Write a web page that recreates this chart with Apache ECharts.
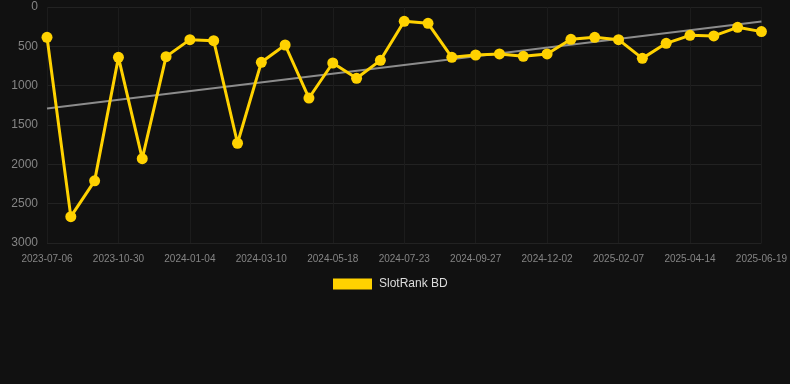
<!DOCTYPE html>
<html>
<head>
<meta charset="utf-8">
<style>
  html, body { margin: 0; padding: 0; background: #111111; }
  #chart { width: 790px; height: 384px; }
</style>
<script src="https://cdn.jsdelivr.net/npm/echarts@6/dist/echarts.min.js"></script>
</head>
<body>
<div id="chart"></div>
<script>
var dates = [
  '2023-07-06', '2023-08-14', '2023-09-22', '2023-10-30', '2023-11-21', '2023-12-13',
  '2024-01-04', '2024-01-26', '2024-02-17', '2024-03-10', '2024-04-02', '2024-04-25',
  '2024-05-18', '2024-06-09', '2024-07-01', '2024-07-23', '2024-08-14', '2024-09-05',
  '2024-09-27', '2024-10-19', '2024-11-10', '2024-12-02', '2024-12-24', '2025-01-16',
  '2025-02-07', '2025-03-01', '2025-03-23', '2025-04-14', '2025-05-06', '2025-05-28',
  '2025-06-19'
];
var ranks = [
  385, 2665, 2210, 640, 1928, 631,
  415, 428, 1732, 703, 483, 1157,
  712, 906, 678, 182, 208, 640,
  610, 597, 627, 597, 411, 385,
  415, 653, 462, 360, 368, 258,
  313
];
// trend line end points (first and last date)
var trendEnds = [1290, 185];

var trend = dates.map(function (d, i) {
  if (i === 0) return trendEnds[0];
  if (i === dates.length - 1) return trendEnds[1];
  return null;
});

var chart = echarts.init(document.getElementById('chart'));
chart.setOption({
  backgroundColor: '#111111',
  animation: false,
  grid: { top: 7, bottom: 141, left: 47, right: 28 },
  legend: {
    top: 273,
    left: 328,
    data: [{ name: 'SlotRank BD', icon: 'rect' }],
    itemWidth: 39,
    itemHeight: 11,
    itemGap: 10,
    textStyle: { color: '#dddddd', fontSize: 12, padding: [0, 0, 0, 2], fontFamily: 'Liberation Sans, Arial, sans-serif' }
  },
  xAxis: {
    type: 'category',
    data: dates,
    boundaryGap: false,
    axisLine: { show: false },
    axisTick: { show: false },
    axisLabel: { interval: 2, color: '#858585', fontSize: 10, margin: 11, fontFamily: 'Liberation Sans, Arial, sans-serif' },
    splitLine: { show: true, interval: 2, lineStyle: { color: '#1c1c1c', width: 1 } }
  },
  yAxis: {
    type: 'value',
    inverse: true,
    min: 0,
    max: 3000,
    interval: 500,
    axisLine: { show: false },
    axisTick: { show: false },
    axisLabel: {
      color: '#858585', fontSize: 12, margin: 9, fontFamily: 'Liberation Sans, Arial, sans-serif',
      formatter: function (v) { return String(v); }
    },
    splitLine: { lineStyle: { color: '#222222', width: 1 } }
  },
  series: [
    {
      name: 'Trend',
      type: 'line',
      data: trend,
      connectNulls: true,
      symbol: 'none',
      lineStyle: { color: '#8c8c8c', width: 2 },
      z: 1
    },
    {
      name: 'SlotRank BD',
      type: 'line',
      data: ranks,
      symbol: 'circle',
      symbolSize: 11,
      itemStyle: { color: '#ffd200' },
      lineStyle: { color: '#ffd200', width: 3 },
      z: 2
    }
  ]
});
</script>
</body>
</html>
